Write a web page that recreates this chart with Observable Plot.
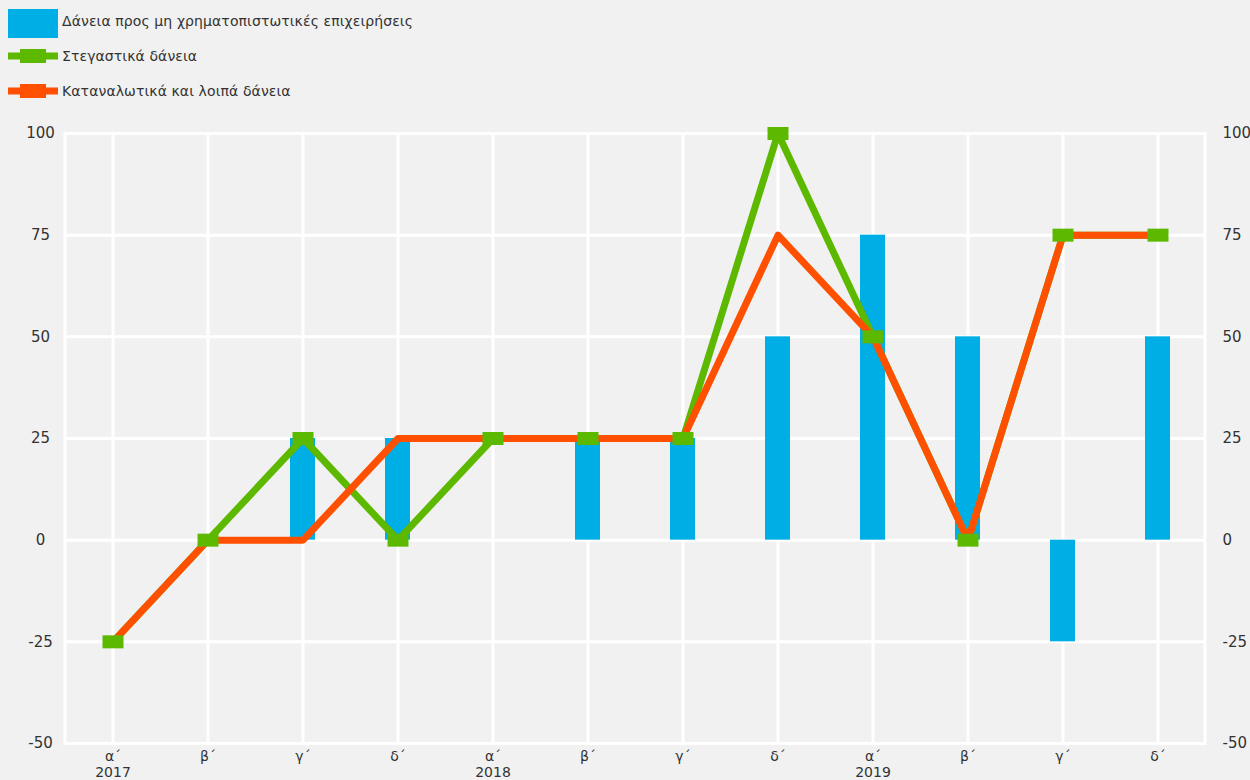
<!DOCTYPE html>
<html>
<head>
<meta charset="utf-8">
<script src="https://cdn.jsdelivr.net/npm/d3@7"></script>
<script src="https://cdn.jsdelivr.net/npm/@observablehq/plot@0.6"></script>
<style>
  html, body { margin: 0; padding: 0; background: #f1f1f1; }
  #chart { width: 1250px; height: 780px; position: relative; font-family: "DejaVu Sans", sans-serif; color: #333; }
  #legend { display: block; }
  #plot svg { display: block; }
</style>
</head>
<body>
<div id="chart">
  <svg id="legend" width="1250" height="110"></svg>
  <div id="plot"></div>
</div>
<script>
// Quarters and years along the horizontal axis
const quarters = ["α΄", "β΄", "γ΄", "δ΄", "α΄", "β΄", "γ΄", "δ΄", "α΄", "β΄", "γ΄", "δ΄"];
const years = [2017, 2017, 2017, 2017, 2018, 2018, 2018, 2018, 2019, 2019, 2019, 2019];

// Series values (net percentage)
const businessLoans = [0, 0, 25, 25, 0, 25, 25, 50, 75, 50, -25, 50];
const housingLoans = [-25, 0, 25, 0, 25, 25, 25, 100, 50, 0, 75, 75];
const consumerLoans = [-25, 0, 0, 25, 25, 25, 25, 75, 50, 0, 75, 75];

// Value axis ticks
const yTicks = [-50, -25, 0, 25, 50, 75, 100];

// Series names
const seriesNames = [
  "Δάνεια προς μη χρηματοπιστωτικές επιχειρήσεις",
  "Στεγαστικά δάνεια",
  "Καταναλωτικά και λοιπά δάνεια"
];

const colors = { business: "#00aee6", housing: "#5db800", consumer: "#ff4f00" };

const keys = quarters.map((q, i) => `${years[i]} ${q}`);
const rows = keys.map((key, i) => ({
  key,
  quarter: quarters[i],
  year: years[i],
  business: businessLoans[i],
  housing: housingLoans[i],
  consumer: consumerLoans[i]
}));

// Rectangular marker used on the housing series
const wideSquare = {
  draw(context) {
    context.rect(-10.5, -6.5, 21, 13);
  }
};

// Legend
const legend = d3.select("#legend");
const leg = legend.append("g")
  .attr("font-family", "DejaVu Sans, sans-serif")
  .attr("font-size", 14)
  .attr("letter-spacing", "0.1px")
  .attr("fill", "#333");
leg.append("rect").attr("x", 8).attr("y", 9).attr("width", 50).attr("height", 29).attr("fill", colors.business);
leg.append("text").attr("x", 62).attr("y", 21).attr("dy", "0.35em").text(seriesNames[0]);
[[colors.housing, 56, seriesNames[1]], [colors.consumer, 91, seriesNames[2]]].forEach(([c, y, name]) => {
  leg.append("line").attr("x1", 8).attr("x2", 58).attr("y1", y).attr("y2", y).attr("stroke", c).attr("stroke-width", 7);
  leg.append("rect").attr("x", 20).attr("y", y - 7).attr("width", 26).attr("height", 14).attr("fill", c);
  leg.append("text").attr("x", 62).attr("y", y).attr("dy", "0.35em").text(name);
});

const hyphen = d => String(d).replace("−", "-");

const chart = Plot.plot({
  width: 1250,
  height: 670,
  marginTop: 23,
  marginBottom: 37,
  marginLeft: 64.5,
  marginRight: 45.5,
  style: { background: "transparent", fontFamily: "DejaVu Sans, sans-serif", fontSize: "13px", color: "#333" },
  x: { type: "band", domain: keys, padding: 0, axis: null },
  y: { domain: [-50, 100], axis: null },
  marks: [
    Plot.ruleY(yTicks, { stroke: "white", strokeWidth: 3 }),
    Plot.ruleX(keys, { x: d => d, stroke: "white", strokeWidth: 3 }),
    Plot.frame({ stroke: "white", strokeWidth: 3 }),
    Plot.barY(rows, { x: "key", y: "business", fill: colors.business, insetLeft: 35, insetRight: 35 }),
    Plot.line(rows, { x: "key", y: "housing", stroke: colors.housing, strokeWidth: 7 }),
    Plot.line(rows, { x: "key", y: "consumer", stroke: colors.consumer, strokeWidth: 7 }),
    Plot.dot(rows, { x: "key", y: "housing", symbol: wideSquare, fill: colors.housing, stroke: null }),
    Plot.axisY(yTicks, { anchor: "left", label: null, tickSize: 0, tickPadding: 24.5, textAnchor: "middle", fill: "#333", fontSize: 15, tickFormat: hyphen }),
    Plot.axisY(yTicks, { anchor: "right", label: null, tickSize: 0, tickPadding: 17.5, fill: "#333", fontSize: 15, tickFormat: hyphen }),
    Plot.axisX(keys, {
      anchor: "bottom",
      label: null,
      tickSize: 0,
      tickPadding: 7,
      lineHeight: 1.1,
      fill: "#333",
      fontSize: 14,
      tickFormat: k => {
        const r = rows.find(d => d.key === k);
        return r.quarter === "α΄" ? `${r.quarter}\n${r.year}` : r.quarter;
      }
    })
  ]
});
document.getElementById("plot").appendChild(chart);
</script>
</body>
</html>
